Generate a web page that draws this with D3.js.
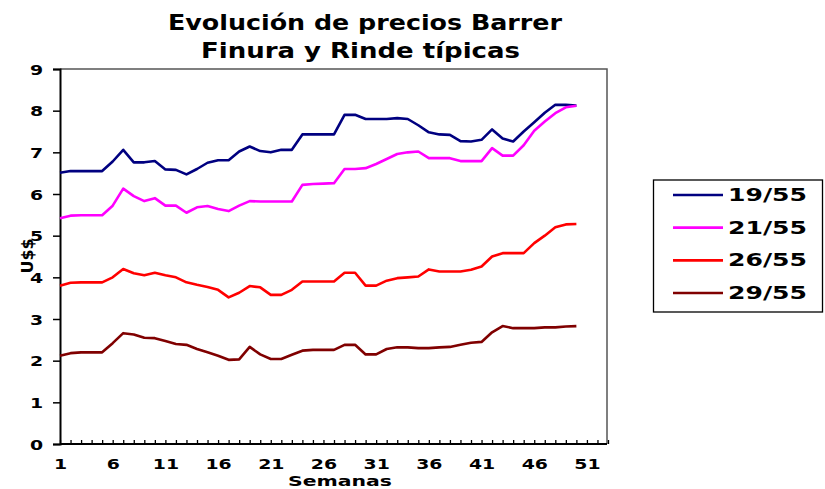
<!DOCTYPE html>
<html>
<head>
<meta charset="utf-8">
<script src="https://cdn.jsdelivr.net/npm/d3@7"></script>
<style>
  html, body { margin: 0; padding: 0; background: #fff; }
  svg text { font-family: "DejaVu Sans", Verdana, sans-serif; font-weight: bold; fill: #000; }
</style>
</head>
<body>
<svg id="chart" width="825" height="489"></svg>
<script>
const weeks = d3.range(1, 51);
const tickLabels = [1, 6, 11, 16, 21, 26, 31, 36, 41, 46, 51];
const yTicks = [0, 1, 2, 3, 4, 5, 6, 7, 8, 9];
const seriesNames = ["19/55", "21/55", "26/55", "29/55"];
const seriesColors = ["#000080", "#FF00FF", "#FF0000", "#800000"];

const s19 = [6.51,6.55,6.55,6.55,6.55,6.78,7.06,6.76,6.76,6.79,
             6.59,6.58,6.47,6.60,6.75,6.81,6.81,7.02,7.14,7.03,
             7.00,7.06,7.06,7.43,7.43,7.43,7.43,7.90,7.90,7.80,
             7.80,7.80,7.82,7.80,7.65,7.48,7.43,7.42,7.27,7.26,
             7.30,7.55,7.33,7.26,7.50,7.72,7.95,8.14,8.14,8.12];
const s21 = [5.42,5.48,5.49,5.49,5.49,5.72,6.13,5.95,5.83,5.90,
             5.72,5.72,5.55,5.68,5.71,5.64,5.59,5.72,5.83,5.82,
             5.82,5.82,5.82,6.22,6.24,6.25,6.26,6.60,6.60,6.62,
             6.72,6.84,6.96,7.00,7.02,6.86,6.86,6.86,6.79,6.79,
             6.79,7.10,6.92,6.92,7.17,7.52,7.74,7.94,8.08,8.12];
const s26 = [3.80,3.87,3.88,3.88,3.88,4.00,4.20,4.10,4.05,4.11,
             4.05,4.00,3.88,3.82,3.77,3.70,3.52,3.63,3.79,3.76,
             3.58,3.58,3.70,3.90,3.90,3.90,3.90,4.11,4.11,3.80,
             3.80,3.92,3.98,4.00,4.02,4.19,4.14,4.14,4.14,4.18,
             4.26,4.50,4.58,4.58,4.58,4.82,5.00,5.20,5.27,5.28];
const s29 = [2.12,2.18,2.20,2.20,2.20,2.42,2.66,2.63,2.55,2.54,
             2.47,2.40,2.38,2.28,2.20,2.12,2.02,2.03,2.33,2.15,
             2.04,2.04,2.14,2.24,2.26,2.26,2.26,2.38,2.38,2.15,
             2.15,2.28,2.32,2.32,2.30,2.30,2.32,2.33,2.38,2.43,
             2.45,2.68,2.83,2.78,2.78,2.78,2.80,2.80,2.82,2.83];
const seriesValues = [s19, s21, s26, s29];

const svg = d3.select("#chart");
const pLeft = 60, pRight = 607, pTop = 69, pBottom = 444;

const x = d3.scaleLinear().domain([1, 53]).range([pLeft, 608]);
const y = d3.scaleLinear().domain([0, 9]).range([pBottom, pTop]);

function stretch(sel, factor) {
  sel.each(function() {
    const len = this.getComputedTextLength();
    d3.select(this).attr("textLength", len * factor).attr("lengthAdjust", "spacingAndGlyphs");
  });
}

// Title
svg.append("text").attr("x", 168).attr("y", 30).attr("font-size", 20.5)
  .attr("textLength", 394).attr("lengthAdjust", "spacingAndGlyphs")
  .text("Evolución de precios Barrer");
svg.append("text").attr("x", 201).attr("y", 58).attr("font-size", 20.5)
  .attr("textLength", 319).attr("lengthAdjust", "spacingAndGlyphs")
  .text("Finura y Rinde típicas");

// Plot frame (top and right)
svg.append("path")
  .attr("d", `M${pLeft},${pTop}H${pRight}V${pBottom}`)
  .attr("fill", "none").attr("stroke", "#555").attr("stroke-width", 1.5);

// Y axis
const yAxis = d3.axisLeft(y).tickValues(yTicks).tickSize(7).tickPadding(10).tickFormat(d3.format("d"));
const gy = svg.append("g").attr("transform", `translate(${pLeft},0)`).call(yAxis);
gy.select(".domain").attr("stroke", "#000").attr("stroke-width", 2);
gy.selectAll(".tick line").attr("stroke", "#000").attr("stroke-width", 1.5);
gy.selectAll(".tick text").attr("font-size", 14.5).attr("font-family", "DejaVu Sans").attr("font-weight", "bold")
  .attr("fill", "#000").attr("dy", "0.36em");
stretch(gy.selectAll(".tick text"), 1.3);

// X axis minor ticks (inside)
const xAxisMinor = d3.axisTop(x).tickValues(d3.range(1, 54)).tickSize(4).tickFormat("");
const gxm = svg.append("g").attr("transform", `translate(0,${pBottom})`).call(xAxisMinor);
gxm.select(".domain").remove();
gxm.selectAll(".tick line").attr("stroke", "#000").attr("stroke-width", 1.3);

const xAxis = d3.axisBottom(x).tickValues(tickLabels).tickSize(0).tickPadding(15).tickFormat(d3.format("d"));
const gx = svg.append("g").attr("transform", `translate(0,${pBottom})`).call(xAxis);
gx.select(".domain").attr("stroke", "#000").attr("stroke-width", 2).attr("d", `M${pLeft},0H${pRight}`);
gx.selectAll(".tick text").attr("font-size", 14.5).attr("font-family", "DejaVu Sans").attr("font-weight", "bold")
  .attr("fill", "#000");
stretch(gx.selectAll(".tick text"), 1.3);

// Axis titles
svg.append("text").attr("x", 340).attr("y", 486).attr("text-anchor", "middle").attr("font-size", 13.5)
  .attr("textLength", 104).attr("lengthAdjust", "spacingAndGlyphs").text("Semanas");
svg.append("text").attr("transform", "translate(33,256) rotate(-90)").attr("text-anchor", "middle")
  .attr("font-size", 15).attr("textLength", 35).attr("lengthAdjust", "spacingAndGlyphs").text("U$$");

// Lines
const line = d3.line().x((d, i) => x(weeks[i])).y(d => y(d));
seriesValues.forEach((vals, k) => {
  svg.append("path").datum(vals)
    .attr("d", line)
    .attr("fill", "none")
    .attr("stroke", seriesColors[k])
    .attr("stroke-width", 2.6)
    .attr("stroke-linejoin", "round");
});

// Legend
const lg = svg.append("g");
lg.append("rect").attr("x", 653.5).attr("y", 180).attr("width", 169).attr("height", 132)
  .attr("fill", "#fff").attr("stroke", "#000").attr("stroke-width", 1.3);
const legendY = d3.scalePoint().domain(seriesNames).range([195, 293]);
seriesNames.forEach((name, k) => {
  const yy = legendY(name);
  lg.append("line").attr("x1", 673).attr("x2", 723).attr("y1", yy).attr("y2", yy)
    .attr("stroke", seriesColors[k]).attr("stroke-width", 2.6);
  lg.append("text").attr("x", 728).attr("y", yy + 6).attr("font-size", 17)
    .attr("textLength", 79).attr("lengthAdjust", "spacingAndGlyphs").text(name);
});
</script>
</body>
</html>
